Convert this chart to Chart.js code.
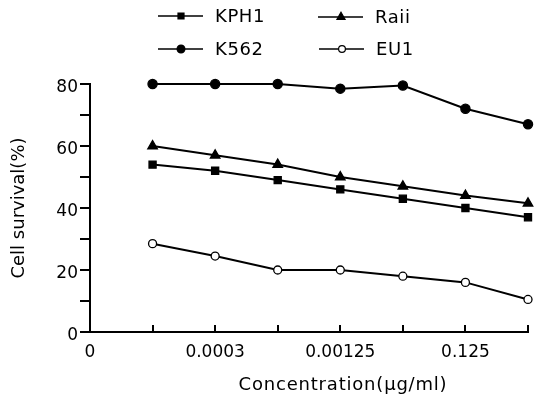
<!DOCTYPE html>
<html><head><meta charset="utf-8">
<script src="https://cdn.jsdelivr.net/npm/chart.js@4/dist/chart.umd.min.js"></script>
<style>html,body{margin:0;padding:0;background:#fff}canvas{display:block}</style>
</head><body>
<canvas id="c" width="545" height="402"></canvas>
<script>
// ---- data ----
const xTickLabels = ['0', '', '0.0003', '', '0.00125', '', '0.125', ''];
const yTickLabels = [0, 20, 40, 60, 80];
const seriesNames = ['KPH1', 'Raii', 'K562', 'EU1'];
const kph1 = [null, 54, 52, 49, 46, 43, 40, 37];
const raii = [null, 60, 57, 54, 50, 47, 44, 41.5];
const k562 = [null, 80, 80, 80, 78.5, 79.5, 72, 67];
const eu1  = [null, 28.5, 24.5, 20, 20, 18, 16, 10.5];
const xTitle = 'Concentration(\u03bcg/ml)';
const yTitle = 'Cell survival(%)';

const INK = '#000';
const FONT = 'DejaVu Sans';

function ds(label, data, style, radius, fill) {
  return {
    label, data,
    borderColor: INK, borderWidth: 2,
    pointStyle: style, pointRadius: radius, pointHoverRadius: radius,
    pointBackgroundColor: fill, pointBorderColor: INK, pointBorderWidth: 1.3,
    tension: 0, fill: false, clip: false
  };
}

const datasets = [
  ds(seriesNames[0], kph1, 'rect', 5, INK),
  ds(seriesNames[1], raii, 'triangle', 5.5, INK),
  ds(seriesNames[2], k562, 'circle', 4.6, INK),
  ds(seriesNames[3], eu1, 'circle', 4, '#fff')
];

function marker(ctx, style, r, cx, cy, fill) {
  ctx.save();
  ctx.beginPath();
  if (style === 'rect') {
    const s = r * Math.SQRT1_2;
    ctx.rect(cx - s, cy - s, 2 * s, 2 * s);
  } else if (style === 'triangle') {
    ctx.moveTo(cx, cy - r);
    ctx.lineTo(cx + r * 0.866, cy + r * 0.5);
    ctx.lineTo(cx - r * 0.866, cy + r * 0.5);
    ctx.closePath();
  } else {
    ctx.arc(cx, cy, r, 0, Math.PI * 2);
  }
  ctx.fillStyle = fill;
  ctx.fill();
  ctx.lineWidth = 1.2;
  ctx.strokeStyle = INK;
  ctx.stroke();
  ctx.restore();
}

const legendSlots = [
  {x: 158, y: 16},
  {x: 318, y: 17},
  {x: 158, y: 49},
  {x: 319, y: 49}
];

const annotate = {
  id: 'annotate',
  afterDraw(chart) {
    const ctx = chart.ctx;
    ctx.save();
    chart.data.datasets.forEach((d, i) => {
      const s = legendSlots[i];
      ctx.beginPath();
      ctx.moveTo(s.x, s.y);
      ctx.lineTo(s.x + 45, s.y);
      ctx.lineWidth = 1.6;
      ctx.strokeStyle = INK;
      ctx.stroke();
      marker(ctx, d.pointStyle, d.pointRadius * 0.85, s.x + 23, s.y, d.pointBackgroundColor);
      ctx.fillStyle = INK;
      ctx.font = '18px "' + FONT + '"';
      ctx.letterSpacing = '0.6px';
      ctx.textBaseline = 'middle';
      ctx.textAlign = 'left';
      ctx.fillText(d.label, s.x + 57, s.y + 1);
    });
    // x-axis title (offset to the right as in the reference)
    ctx.font = '18px "' + FONT + '"';
    ctx.letterSpacing = '0.8px';
    ctx.textAlign = 'center';
    ctx.textBaseline = 'middle';
    ctx.fillStyle = INK;
    ctx.fillText(xTitle, 343, 385);
    ctx.restore();
  }
};

new Chart(document.getElementById('c'), {
  type: 'line',
  data: { labels: xTickLabels, datasets },
  options: {
    responsive: false,
    animation: false,
    devicePixelRatio: 1,
    layout: { padding: { top: 84, right: 15, bottom: 0, left: 0 } },
    plugins: { legend: { display: false }, tooltip: { enabled: false } },
    scales: {
      x: {
        type: 'category',
        offset: false,
        grid: { drawOnChartArea: false, tickLength: -7, color: INK, lineWidth: 2 },
        border: { display: true, color: INK, width: 2 },
        ticks: {
          autoSkip: false, maxRotation: 0, minRotation: 0,
          color: INK, padding: 17,
          font: { family: FONT, size: 17 }
        },
        afterFit(scale) { scale.height = 70; }
      },
      y: {
        min: 0, max: 80,
        grid: { drawOnChartArea: false, tickLength: 10, color: INK, lineWidth: 2 },
        border: { display: true, color: INK, width: 2 },
        ticks: {
          stepSize: 10, color: INK, padding: 2, labelOffset: 4,
          font: { family: FONT, size: 17 },
          callback: v => yTickLabels.includes(v) ? String(v) : ''
        },
        title: {
          display: true, text: yTitle, color: INK,
          font: { family: FONT, size: 18 },
          padding: { top: 9, bottom: 0 }
        },
        afterFit(scale) { scale.width = 90; }
      }
    }
  },
  plugins: [annotate]
});
</script>
</body></html>
